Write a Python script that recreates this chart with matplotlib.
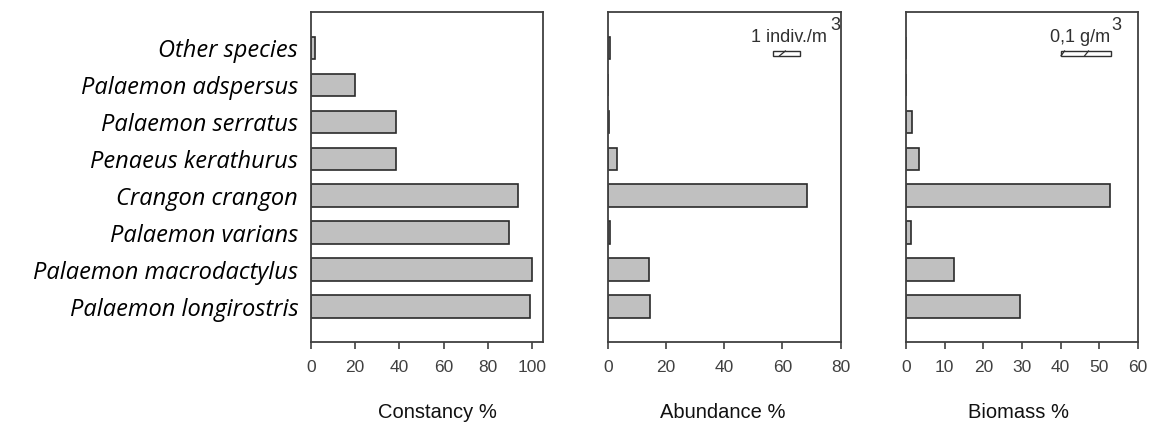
import matplotlib.pyplot as plt
from matplotlib.patches import Rectangle

species = ['Palaemon longirostris', 'Palaemon macrodactylus', 'Palaemon varians',
           'Crangon crangon', 'Penaeus kerathurus', 'Palaemon serratus',
           'Palaemon adspersus', 'Other species']
constancy = [99.1, 100, 89.5, 93.5, 38.6, 38.6, 20.2, 2.0]
abundance = [14.4, 14.1, 0.7, 68.5, 3.1, 0.3, 0.0, 0.7]
biomass = [29.5, 12.3, 1.2, 52.8, 3.3, 1.5, 0.0, 0.0]

W, H = 1162, 426
fig = plt.figure(figsize=(W / 100, H / 100), dpi=100)

def px_axes(x0, x1, y0, y1):
    return fig.add_axes([x0 / W, 1 - y1 / H, (x1 - x0) / W, (y1 - y0) / H])

def fx(x):
    return x / W

def fy(y):
    return 1 - y / H

spine_c = '#404040'
tick_c = '#404040'

panels = [
    (px_axes(310.7, 543.3, 12.5, 341.7), constancy, 105, [0, 20, 40, 60, 80, 100], 'Constancy %', 437),
    (px_axes(607.7, 840.7, 12.5, 341.7), abundance, 80, [0, 20, 40, 60, 80], 'Abundance %', 723),
    (px_axes(906.0, 1138.0, 12.5, 341.7), biomass, 60, [0, 10, 20, 30, 40, 50, 60], 'Biomass %', 1018),
]

ypos = list(range(len(species)))
for i, (ax, vals, xmax, ticks, label, lx) in enumerate(panels):
    ax.barh(ypos, vals, height=0.6, color='#c0c0c0', edgecolor='#2a2a2a', linewidth=1.2)
    ax.set_xlim(0, xmax)
    ax.set_ylim(-0.95, 7.95)
    ax.set_xticks(ticks)
    ax.tick_params(axis='x', direction='out', length=5, width=1.2, color=tick_c,
                   labelcolor=tick_c, labelsize=12.5, pad=8)
    for lab in ax.get_xticklabels():
        lab.set_fontfamily('Liberation Sans')
    ax.tick_params(axis='y', length=0)
    for s in ax.spines.values():
        s.set_color(spine_c)
        s.set_linewidth(1.3)
    if i == 0:
        ax.set_yticks(ypos)
        ax.set_yticklabels(species, fontsize=17, fontstyle='italic', family='Open Sans')
        ax.tick_params(axis='y', pad=9)
    else:
        ax.set_yticks([])
    fig.text(fx(lx), fy(413), label, ha='center', va='center',
             fontsize=14.5, family='Liberation Sans', color='#111111')

# scale marks
txt_c = '#303030'
ax2 = panels[1][0]
ax2.add_patch(Rectangle((56.7, 6.77), 9.4, 0.15, fill=False, edgecolor=txt_c, lw=1.0))
ax2.plot([59.0, 61.0], [6.78, 6.91], color=txt_c, lw=0.9)
fig.text(fx(827), fy(42), '1 indiv./m', ha='right', va='baseline',
         fontsize=13, family='Liberation Sans', color=txt_c)
fig.text(fx(835), fy(30), '3', ha='center', va='baseline',
         fontsize=13, family='Liberation Sans', color=txt_c)

ax3 = panels[2][0]
ax3.add_patch(Rectangle((40.0, 6.77), 13.1, 0.15, fill=False, edgecolor=txt_c, lw=1.0))
ax3.plot([40.1, 41.0], [6.78, 6.91], color=txt_c, lw=0.9)
ax3.plot([46.2, 47.2], [6.78, 6.91], color=txt_c, lw=0.9)
fig.text(fx(1110), fy(42), '0,1 g/m', ha='right', va='baseline',
         fontsize=13, family='Liberation Sans', color=txt_c)
fig.text(fx(1116), fy(30), '3', ha='center', va='baseline',
         fontsize=13, family='Liberation Sans', color=txt_c)

fig.savefig('out.png', dpi=100)
